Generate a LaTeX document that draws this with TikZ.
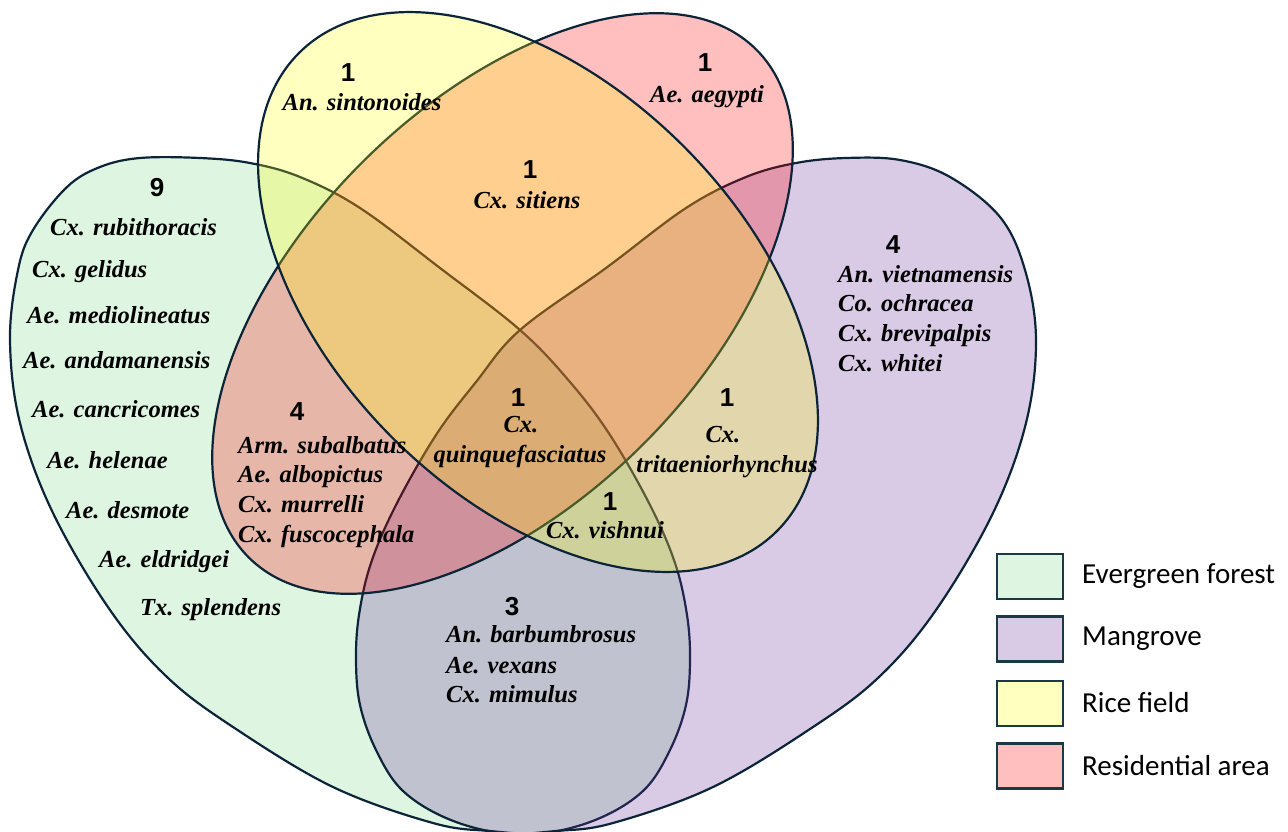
\documentclass[tikz,border=0pt]{standalone}
\usepackage{fontspec}
\setmainfont{Liberation Serif}
\newfontfamily\numfont{Liberation Sans}[UprightFont={* Bold}]
\newfontfamily\legfont{Carlito}
\definecolor{gbase}{RGB}{123,215,135}
\definecolor{pbase}{RGB}{103,43,155}
\definecolor{rbase}{RGB}{255,0,0}
\definecolor{ybase}{RGB}{255,255,0}
\definecolor{edge}{RGB}{12,36,56}
\definecolor{legedge}{RGB}{26,56,70}
\definecolor{lgreen}{RGB}{222,245,225}
\definecolor{lpurple}{RGB}{217,202,230}
\definecolor{lyellow}{RGB}{255,255,191}
\definecolor{lpink}{RGB}{255,191,191}
\begin{document}
\begin{tikzpicture}[x=1pt,y=-1pt,
  setshape/.style={draw=edge, line width=2.2pt, fill opacity=0.25},
  sp/.style={font=\fontsize{24.5}{29}\selectfont\bfseries\itshape, inner sep=0pt, text height=16pt, text depth=5pt},
  spl/.style={sp, anchor=west},
  num/.style={font=\numfont\fontsize{26}{30}\selectfont, inner sep=0pt},
  legbox/.style={draw=legedge, line width=2.2pt, minimum width=66pt, minimum height=45pt, inner sep=0pt},
  legtxt/.style={font=\legfont\fontsize{29}{33}\selectfont, anchor=west, inner sep=0pt}
]
\useasboundingbox (0,0) rectangle (1288,831);
% Evergreen forest
\path[setshape, fill=gbase] plot[smooth cycle, tension=0.6] coordinates {
 (140,158) (200,158) (250,163) (300,177) (360,208) (440,268) (520,330) (570,382)
 (610,435) (650,505) (675,563) (687,615) (690,660) (686,705) (670,750) (644,790)
 (600,818) (545,833) (490,831) (433,823) (333,787) (233,727) (167,677) (110,610)
 (53,513) (20,423) (10,340) (18,270) (33,230) (67,187) (100,167)};
% Mangrove
\path[setshape, fill=pbase] plot[smooth cycle, tension=0.6] coordinates {
 (900,160) (950,177) (1000,217) (1025,270) (1036,340) (1026,423) (993,513) (936,610)
 (879,677) (813,727) (713,787) (613,823) (556,831) (501,833) (446,818) (402,790)
 (376,750) (360,705) (356,660) (359,615) (371,563) (396,505) (436,435) (476,382)
 (520,330) (606,268) (686,208) (746,177) (796,163) (846,158)};
% Residential area
\path[setshape, fill=rbase, rotate around={45:(502.5,303.5)}] (502.5,303.5) ellipse [x radius=359pt, y radius=199pt];
% Rice field
\path[setshape, fill=ybase, rotate around={-45:(538,292)}] (538,292) ellipse [x radius=338pt, y radius=206pt];

% Rice field only
\node[num] (nY) at (348,73) {1};
\node[sp] (tY) at (362,105) {An. sintonoides};
% Residential only
\node[num] (nR) at (705,63) {1};
\node[sp] (tR) at (707,97) {Ae. aegypti};
% Rice & Residential
\node[num] (nYR) at (530,170) {1};
\node[sp] (tYR) at (527,203) {Cx. sitiens};
% Evergreen only
\node[num] (nG) at (157,188) {9};
\node[spl] (g1) at (50,230) {Cx. rubithoracis};
\node[spl] (g2) at (32,272) {Cx. gelidus};
\node[spl] (g3) at (27,318) {Ae. mediolineatus};
\node[spl] (g4) at (23,363) {Ae. andamanensis};
\node[spl] (g5) at (32,412) {Ae. cancricomes};
\node[spl] (g6) at (47,463) {Ae. helenae};
\node[spl] (g7) at (66,513) {Ae. desmote};
\node[spl] (g8) at (99,562) {Ae. eldridgei};
\node[spl] (g9) at (140,610) {Tx. splendens};
% Mangrove only
\node[num] (nP) at (893,245) {4};
\node[spl] (p1) at (838,277) {An. vietnamensis};
\node[spl] (p2) at (838,306) {Co. ochracea};
\node[spl] (p3) at (838,336) {Cx. brevipalpis};
\node[spl] (p4) at (838,366) {Cx. whitei};
% Evergreen & Residential
\node[num] (nGR) at (297,412) {4};
\node[spl] (r1) at (238,448) {Arm. subalbatus};
\node[spl] (r2) at (238,477) {Ae. albopictus};
\node[spl] (r3) at (238,507) {Cx. murrelli};
\node[spl] (r4) at (238,537) {Cx. fuscocephala};
% all four
\node[num] (nAll) at (518,398) {1};
\node[sp] (a1) at (521,427) {Cx.};
\node[sp] (a2) at (520,457) {quinquefasciatus};
% Rice & Mangrove
\node[num] (nYP) at (727,398) {1};
\node[sp] (b1) at (723,437) {Cx.};
\node[sp] (b2) at (727,467) {tritaeniorhynchus};
% Evergreen, Mangrove & Rice
\node[num] (nGPY) at (610,502) {1};
\node[sp] (c1) at (605,533) {Cx. vishnui};
% Evergreen & Mangrove
\node[num] (nGP) at (512,607) {3};
\node[spl] (d1) at (446,637) {An. barbumbrosus};
\node[spl] (d2) at (446,668) {Ae. vexans};
\node[spl] (d3) at (446,697) {Cx. mimulus};

% Legend
\node[legbox, fill=lgreen] (k1) at (1030,576.5) {};
\node[legbox, fill=lpurple] (k2) at (1030,639) {};
\node[legbox, fill=lyellow] (k3) at (1030,703.5) {};
\node[legbox, fill=lpink] (k4) at (1030,766) {};
\node[legtxt] (l1) at (1082,576) {Evergreen forest};
\node[legtxt] (l2) at (1082,639) {Mangrove};
\node[legtxt] (l3) at (1082,703) {Rice field};
\node[legtxt] (l4) at (1082,766) {Residential area};
\end{tikzpicture}
\end{document}
